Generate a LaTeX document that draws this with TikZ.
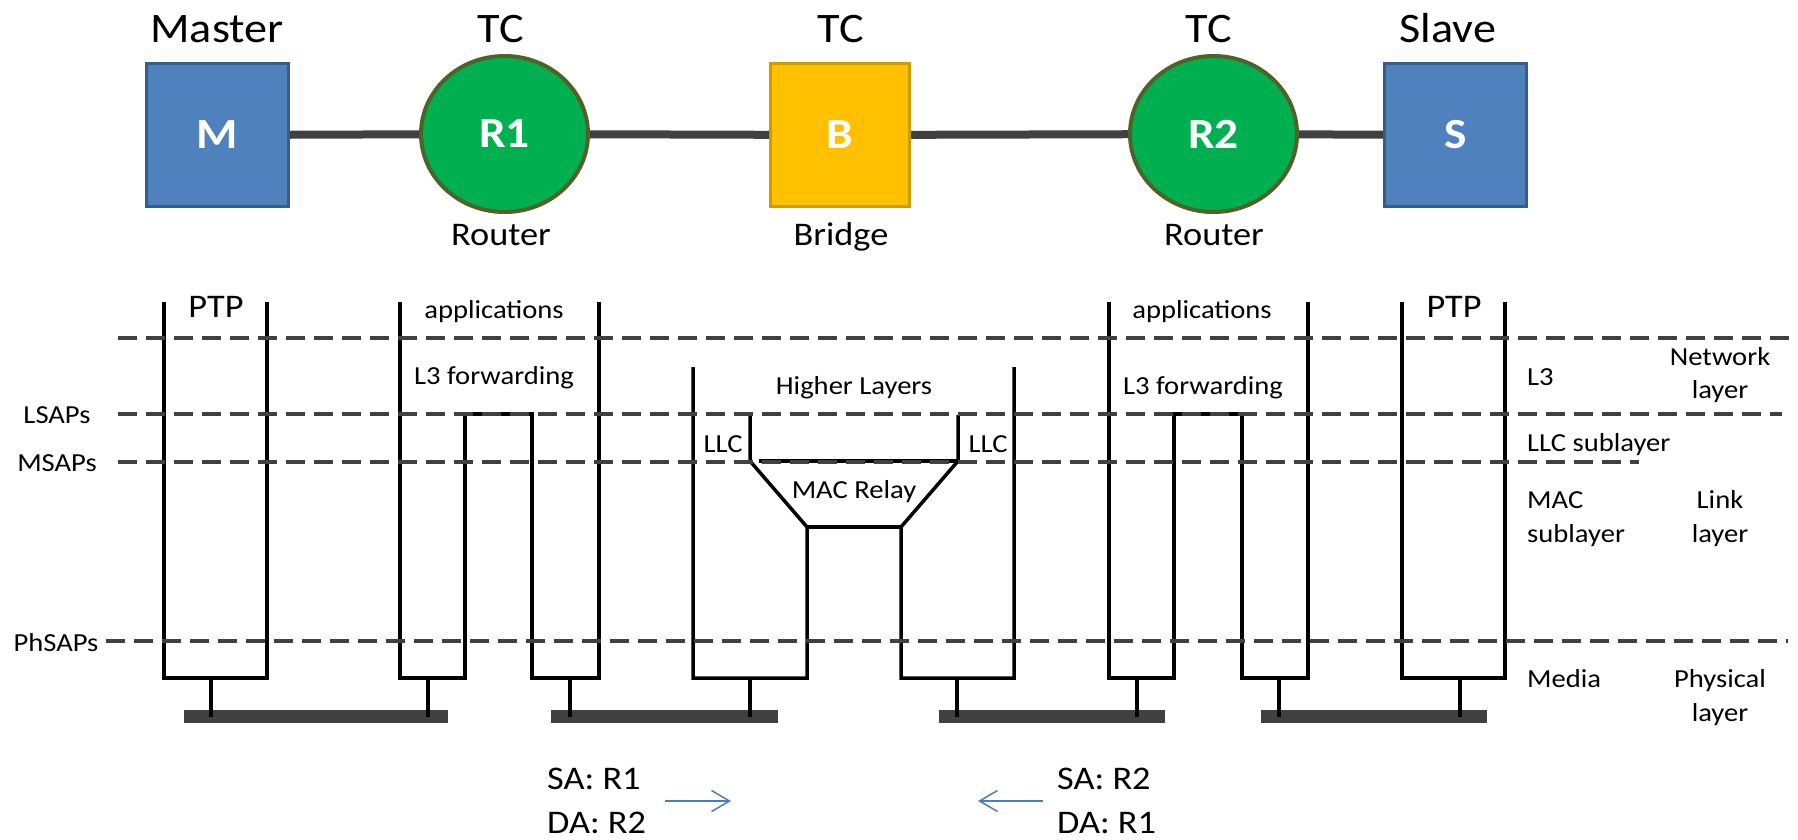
\documentclass[tikz,border=0pt]{standalone}
\usepackage{fontspec}
\setmainfont{Carlito}[FakeStretch=1.1]
\usetikzlibrary{arrows.meta,shapes.geometric}
\definecolor{boxblue}{HTML}{4F81BD}
\definecolor{boxblueline}{HTML}{385D8A}
\definecolor{rgreen}{HTML}{00B050}
\definecolor{rgreenline}{HTML}{4F6228}
\definecolor{byellow}{HTML}{FFC000}
\definecolor{byellowline}{HTML}{CC9C00}
\definecolor{darkgray}{HTML}{404040}
\definecolor{flowblue}{HTML}{4A7EBB}
\begin{document}
\begin{tikzpicture}[x=1pt,y=-1pt,
  bigtxt/.style={font=\fontsize{42}{50}\selectfont, inner sep=0, anchor=base},
  midtxt/.style={font=\fontsize{33}{40}\selectfont, inner sep=0, anchor=base},
  smalltxt/.style={font=\fontsize{26}{31}\selectfont, inner sep=0, anchor=base},
  insidetxt/.style={font=\bfseries\fontsize{43}{50}\selectfont, text=white},
  sqbox/.style={rectangle, line width=3pt, minimum width=142pt, minimum height=143pt, inner sep=0},
  bluebox/.style={sqbox, draw=boxblueline, fill=boxblue},
  yellowbox/.style={sqbox, draw=byellowline, fill=byellow, minimum width=139pt},
  router/.style={ellipse, draw=rgreenline, fill=rgreen, line width=4pt, minimum width=167pt, minimum height=156pt, inner sep=0},
  link/.style={draw=darkgray, line width=8pt},
  stack/.style={draw=black, line width=3.5pt},
  layerline/.style={draw=darkgray, line width=4pt, dash pattern=on 19pt off 9pt},
  bar/.style={rectangle, fill=darkgray, minimum height=13pt, inner sep=0},
  flow/.style={draw=flowblue, line width=1.5pt, -{Straight Barb[length=18pt,width=21pt,line width=1.5pt]}}
]
\useasboundingbox (0,0) rectangle (1798,839);
\fill[white] (0,0) rectangle (1798,839);

% ---- top network ----
\node[bluebox, insidetxt] (M) at (217.5,135) {M};
\node[router, insidetxt] (R1) at (504.5,134) {R1};
\node[yellowbox, insidetxt] (B) at (840,135) {B};
\node[router, insidetxt] (R2) at (1213.5,134) {R2};
\node[bluebox, insidetxt] (S) at (1455.5,135) {S};

\node[bigtxt] (tMaster) at (217,42) {Master};
\node[bigtxt] (tTC1) at (501,42) {TC};
\node[bigtxt] (tTC2) at (841,42) {TC};
\node[bigtxt] (tTC3) at (1209,42) {TC};
\node[bigtxt] (tSlave) at (1448,42) {Slave};

\node[midtxt] (tRouter1) at (501,245) {Router};
\node[midtxt] (tBridge) at (841,245) {Bridge};
\node[midtxt] (tRouter2) at (1214,245) {Router};

% ---- stacks ----
\draw[stack] (164,302) -- (164,678) -- (267,678) -- (267,302);
\draw[stack] (400,302) |- (465,678) |- (532,414) |- (599,678) -- (599,302);
\draw[stack] (750,415) -- (750,461) -- (807,527) -- (807,678) -- (693,678) -- (693,367);
\draw[stack] (958,415) -- (958,461) -- (901,527) -- (901,678) -- (1014,678) -- (1014,367);
\draw[stack] (807,527) -- (901,527);
\draw[stack] (759,461) -- (958,461);
\draw[stack] (1109,302) |- (1174,678) |- (1242,414) |- (1308,678) -- (1308,302);
\draw[stack] (1402,302) -- (1402,678) -- (1505,678) -- (1505,302);

% ---- media bars ----
\node[bar, minimum width=264pt] (bar1) at (316,716.5) {};
\node[bar, minimum width=227pt] (bar2) at (664.5,716.5) {};
\node[bar, minimum width=226pt] (bar3) at (1052,716.5) {};
\node[bar, minimum width=226pt] (bar4) at (1374,716.5) {};

\coordinate (s1) at (211,678);
\coordinate (s2) at (428,678);
\coordinate (s3) at (570,678);
\coordinate (s4) at (750,678);
\coordinate (s5) at (957,678);
\coordinate (s6) at (1137,678);
\coordinate (s7) at (1279,678);
\coordinate (s8) at (1460,678);
\draw[stack] (s1) -- (s1 |- bar1.center);
\draw[stack] (s2) -- (s2 |- bar1.center);
\draw[stack] (s3) -- (s3 |- bar2.center);
\draw[stack] (s4) -- (s4 |- bar2.center);
\draw[stack] (s5) -- (s5 |- bar3.center);
\draw[stack] (s6) -- (s6 |- bar3.center);
\draw[stack] (s7) -- (s7 |- bar4.center);
\draw[stack] (s8) -- (s8 |- bar4.center);

% ---- layer boundaries ----
\coordinate (d1a) at (118,338); \coordinate (d1b) at (1798,338);
\coordinate (d2a) at (118,414); \coordinate (d2b) at (1782,414);
\coordinate (d3a) at (118,462); \coordinate (d3b) at (1639,462);
\coordinate (d4a) at (106,641); \coordinate (d4b) at (1788,641);
\draw[layerline] (d1a) -- (d1b);
\draw[layerline] (d2a) -- (d2b);
\draw[layerline] (d3a) -- (d3b);
\draw[layerline] (d4a) -- (d4b);

% ---- connectors ----
\draw[link] (M) -- (R1);
\draw[link] (R1) -- (B);
\draw[link] (B) -- (R2);
\draw[link] (R2) -- (S);

% ---- stack texts ----
\node[midtxt] (ptp1) at (216,317) {PTP};
\node[smalltxt] (app1) at (494,318) {applications};
\node[smalltxt] (l3f1) at (494,384) {L3 forwarding};
\node[smalltxt] (hl) at (854,394) {Higher Layers};
\node[smalltxt] (llc1) at (723,452) {LLC};
\node[smalltxt] (llc2) at (988,452) {LLC};
\node[smalltxt] (macr) at (854,498) {MAC Relay};
\node[smalltxt] (app2) at (1202,318) {applications};
\node[smalltxt] (l3f2) at (1203,394) {L3 forwarding};
\node[midtxt] (ptp2) at (1454,317) {PTP};

% ---- left labels ----
\node[smalltxt] (lsap) at (57,423) {LSAPs};
\node[smalltxt] (msap) at (57,471) {MSAPs};
\node[smalltxt] (phsap) at (56,651) {PhSAPs};

% ---- right labels ----
\node[smalltxt, anchor=base west] (rl3) at (1527,385) {L3};
\node[smalltxt, anchor=base west] (rllc) at (1527,451) {LLC sublayer};
\node[smalltxt, anchor=base west] (rmac1) at (1527,508) {MAC};
\node[smalltxt, anchor=base west] (rmac2) at (1527,542) {sublayer};
\node[smalltxt, anchor=base west] (rmedia) at (1527,687) {Media};
\node[smalltxt] (rnet1) at (1720,365) {Network};
\node[smalltxt] (rnet2) at (1720,398) {layer};
\node[smalltxt] (rlink1) at (1720,508) {Link};
\node[smalltxt] (rlink2) at (1720,542) {layer};
\node[smalltxt] (rphy1) at (1720,687) {Physical};
\node[smalltxt] (rphy2) at (1720,721) {layer};

% ---- frame addresses ----
\node[midtxt, anchor=base west] (sa1) at (547,789) {SA: R1};
\node[midtxt, anchor=base west] (da1) at (547,833) {DA: R2};
\node[midtxt, anchor=base west] (sa2) at (1057,789) {SA: R2};
\node[midtxt, anchor=base west] (da2) at (1057,833) {DA: R1};
\coordinate (a1s) at (665,801); \coordinate (a1e) at (731,801);
\coordinate (a2s) at (1043,801); \coordinate (a2e) at (978,801);
\draw[flow] (a1s) -- (a1e);
\draw[flow] (a2s) -- (a2e);
\end{tikzpicture}
\end{document}
